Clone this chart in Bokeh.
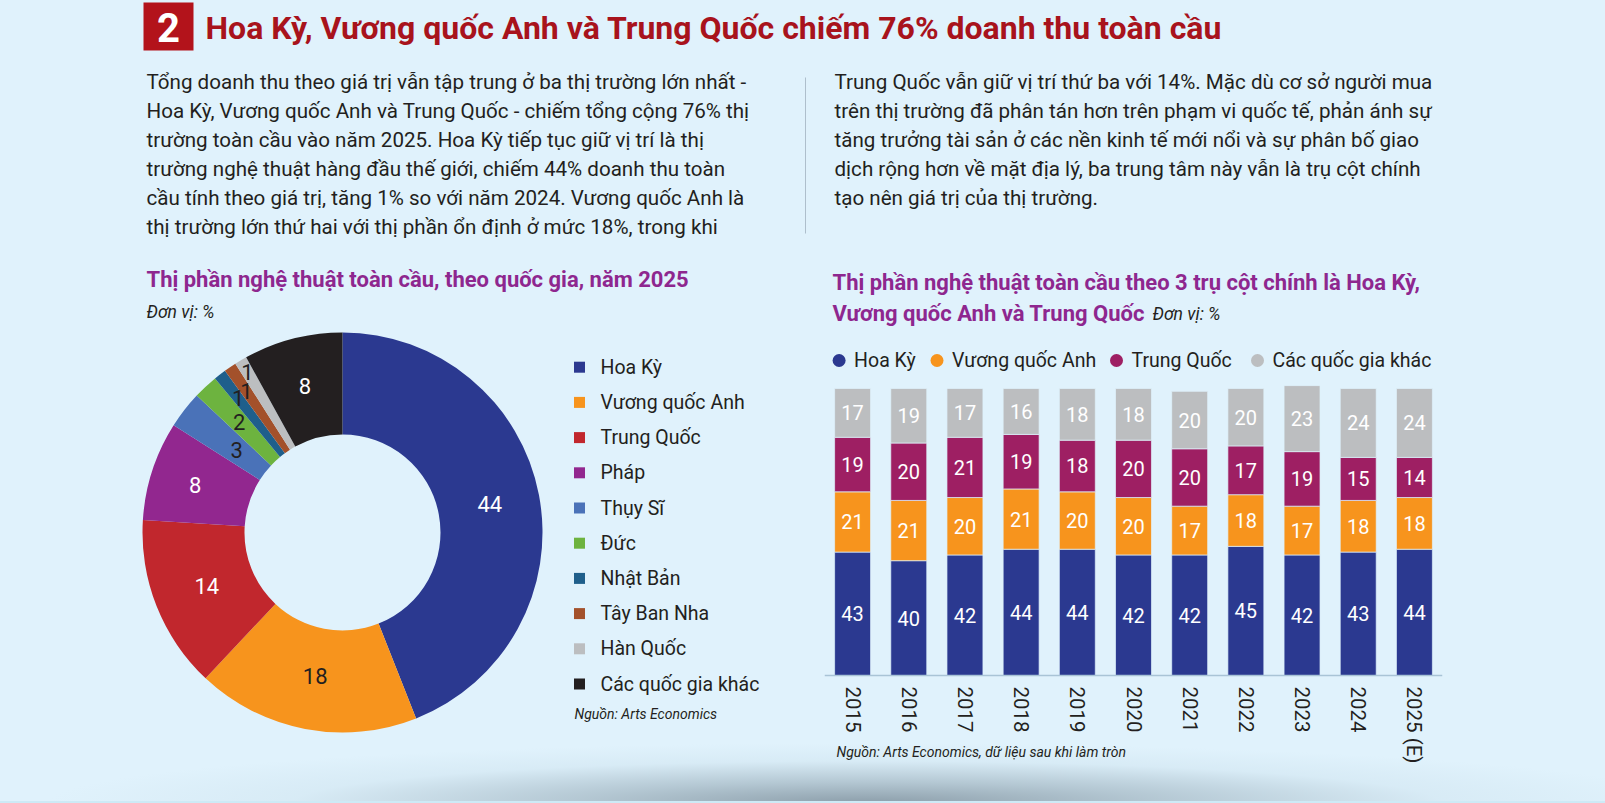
import numpy as np
from bokeh.plotting import figure
from bokeh.layouts import column, row
from bokeh.models import ColumnDataSource, Range1d, FactorRange
from bokeh.core.properties import value
from bokeh.embed import file_html
from bokeh.resources import INLINE

# ---------------- data ----------------
headline = "Hoa Kỳ, Vương quốc Anh và Trung Quốc chiếm 76% doanh thu toàn cầu"
section_no = "2"

para_left = [
    "Tổng doanh thu theo giá trị vẫn tập trung ở ba thị trường lớn nhất -",
    "Hoa Kỳ, Vương quốc Anh và Trung Quốc - chiếm tổng cộng 76% thị",
    "trường toàn cầu vào năm 2025. Hoa Kỳ tiếp tục giữ vị trí là thị",
    "trường nghệ thuật hàng đầu thế giới, chiếm 44% doanh thu toàn",
    "cầu tính theo giá trị, tăng 1% so với năm 2024. Vương quốc Anh là",
    "thị trường lớn thứ hai với thị phần ổn định ở mức 18%, trong khi",
]
para_right = [
    "Trung Quốc vẫn giữ vị trí thứ ba với 14%. Mặc dù cơ sở người mua",
    "trên thị trường đã phân tán hơn trên phạm vi quốc tế, phản ánh sự",
    "tăng trưởng tài sản ở các nền kinh tế mới nổi và sự phân bố giao",
    "dịch rộng hơn về mặt địa lý, ba trung tâm này vẫn là trụ cột chính",
    "tạo nên giá trị của thị trường.",
]

donut_title = "Thị phần nghệ thuật toàn cầu, theo quốc gia, năm 2025"
unit_text = "Đơn vị: %"
donut_source = "Nguồn: Arts Economics"
countries = ["Hoa Kỳ", "Vương quốc Anh", "Trung Quốc", "Pháp", "Thụy Sĩ",
             "Đức", "Nhật Bản", "Tây Ban Nha", "Hàn Quốc", "Các quốc gia khác"]
country_share = [44, 18, 14, 8, 3, 2, 1, 1, 1, 8]
country_colors = ["#2b3990", "#f7941d", "#c1272d", "#92278f", "#4a72b8",
                  "#6db33f", "#1f5f8b", "#a3512b", "#bcbec0", "#231f20"]

bar_title = ["Thị phần nghệ thuật toàn cầu theo 3 trụ cột chính là Hoa Kỳ,",
             "Vương quốc Anh và Trung Quốc"]
bar_source = "Nguồn: Arts Economics, dữ liệu sau khi làm tròn"
years = ["2015", "2016", "2017", "2018", "2019", "2020",
         "2021", "2022", "2023", "2024", "2025 (E)"]
share_us = [43, 40, 42, 44, 44, 42, 42, 45, 42, 43, 44]
share_uk = [21, 21, 20, 21, 20, 20, 17, 18, 17, 18, 18]
share_cn = [19, 20, 21, 19, 18, 20, 20, 17, 19, 15, 14]
share_other = [17, 19, 17, 16, 18, 18, 20, 20, 23, 24, 24]
series_names = ["Hoa Kỳ", "Vương quốc Anh", "Trung Quốc", "Các quốc gia khác"]
series_colors = ["#2b3990", "#f7941d", "#9e1f63", "#bcbec0"]

# ---------------- styling ----------------
BG = "#e0f2fc"
INK = "#231f20"
PURPLE = "#8e278f"
FONT = "Roboto"
PAGE_W, PAGE_H = 1605, 803
HEAD_H = 245
LEFT_W = 800
RIGHT_W = PAGE_W - LEFT_W
BODY_H = PAGE_H - HEAD_H


def blank_fig(w, h, xr, yr):
    p = figure(width=w, height=h, x_range=xr, y_range=yr, tools="",
               toolbar_location=None, output_backend="svg",
               x_axis_location=None, y_axis_location=None,
               min_border=0, outline_line_color=None,
               background_fill_alpha=0, border_fill_alpha=0)
    p.grid.visible = False
    return p


def put_text(p, xs, ys, texts, size, color=INK, style="normal",
             align="left", font=FONT):
    p.text(x=xs, y=ys, text=texts, text_font=value(font),
           text_font_size=size, text_font_style=style, text_color=color,
           text_align=align, text_baseline="middle")


# ---------------- header ----------------
def hy(y):
    return HEAD_H - y


head = blank_fig(PAGE_W, HEAD_H, Range1d(0, PAGE_W), Range1d(0, HEAD_H))
head.quad(left=[143], right=[193], top=[hy(2)], bottom=[hy(50)],
          color="#b3131b", line_color=None)
put_text(head, [168], [hy(27)], [section_no], "40px", color="white",
         style="bold", align="center")
put_text(head, [205], [hy(27.5)], [headline], "32px", color="#a8131c",
         style="bold")

line_gap = 28.9
put_text(head, [146] * len(para_left),
         [hy(81.5 + i * line_gap) for i in range(len(para_left))],
         para_left, "20.6px")
put_text(head, [834] * len(para_right),
         [hy(81.5 + i * line_gap) for i in range(len(para_right))],
         para_right, "20.6px")
head.line([805, 805], [hy(77), hy(233)], line_color="#aebfcc", line_width=1)


# ---------------- left: donut ----------------
def ly(y):
    return PAGE_H - y


left = blank_fig(LEFT_W, BODY_H, Range1d(0, LEFT_W), Range1d(0, BODY_H))
put_text(left, [146], [ly(279)], [donut_title], "22px", color=PURPLE,
         style="bold")
put_text(left, [146], [ly(311)], [unit_text], "17.5px", style="italic")

cx, cy = 342, ly(532)
r_in, r_out = 98, 200
frac = np.array(country_share, dtype=float) / sum(country_share)
cum_end = np.cumsum(frac)
cum_start = cum_end - frac
donut_src = ColumnDataSource(dict(
    name=countries, share=country_share, color=country_colors,
    start=np.pi / 2 - 2 * np.pi * cum_end,
    end=np.pi / 2 - 2 * np.pi * cum_start,
))
left.annular_wedge(x=cx, y=cy, inner_radius=r_in, outer_radius=r_out,
                   start_angle="start", end_angle="end", color="color",
                   line_color=None, source=donut_src)

# label radius per slice (the thin slices are staggered outward)
label_radius = [150, 146, 146, 155, 134, 151, 170, 171, 187, 151]
label_color = ["white", INK, "white", "white", INK, INK, INK, INK, INK, "white"]
mid = np.pi / 2 - 2 * np.pi * (cum_start + frac / 2)
lx = cx + np.array(label_radius) * np.cos(mid)
lyy = cy + np.array(label_radius) * np.sin(mid)
left.text(x=lx, y=lyy, text=[str(v) for v in country_share],
          text_font=value(FONT), text_font_size="22px",
          text_color=label_color, text_align="center", text_baseline="middle")

# legend
leg_y = [ly(366.7 + i * 35.2) for i in range(len(countries))]
left.scatter(x=[579] * len(countries), y=leg_y, marker="square", size=11,
             color=country_colors, line_color=None)
put_text(left, [600] * len(countries), leg_y, countries, "19.5px")
put_text(left, [574], [ly(713)], [donut_source], "14px", style="italic")

# ---------------- right: stacked bars ----------------
FR_L, FR_W = 24, 618
BASE_Y = 675
PX_PER_UNIT = 2.87
CAT_W = FR_W / len(years)


def rx(x):
    return (x - (LEFT_W + FR_L)) / CAT_W


def ry(y):
    return (BASE_Y - y) / PX_PER_UNIT


right = figure(width=RIGHT_W, height=BODY_H,
               x_range=FactorRange(*years),
               y_range=Range1d(ry(PAGE_H), ry(HEAD_H)),
               tools="", toolbar_location=None, output_backend="svg",
               x_axis_location="below", y_axis_location=None,
               min_border_left=FR_L, min_border_right=RIGHT_W - FR_L - FR_W,
               min_border_top=0, min_border_bottom=0,
               outline_line_color=None,
               background_fill_alpha=0, border_fill_alpha=0)
right.grid.visible = False

keys = ["us", "uk", "cn", "other"]
bar_src = ColumnDataSource(dict(year=years, us=share_us, uk=share_uk,
                                cn=share_cn, other=share_other))
right.vbar_stack(keys, x="year", width=0.64, color=series_colors,
                 line_color=BG, line_width=1, line_alpha=0.7, source=bar_src)

bottom = np.zeros(len(years))
for vals in (share_us, share_uk, share_cn, share_other):
    v = np.array(vals, dtype=float)
    right.text(x=years, y=bottom + v / 2, text=[str(int(a)) for a in v],
               text_font=value(FONT), text_font_size="20px",
               text_color="white", text_align="center", text_baseline="middle")
    bottom = bottom + v

# category axis pinned to the zero line
ax = right.xaxis[0]
ax.fixed_location = 0
ax.major_label_orientation = "vertical"
ax.major_label_text_font = FONT
ax.major_label_text_font_size = "20.5px"
ax.major_label_text_color = INK
ax.major_label_standoff = 5
ax.major_tick_line_color = None
ax.minor_tick_line_color = None
ax.axis_line_color = "#a9c4d6"
ax.axis_line_width = 1.5

put_text(right, [rx(832)] * 2, [ry(281.7), ry(313.3)], bar_title, "22px",
         color=PURPLE, style="bold")
put_text(right, [rx(1152)], [ry(313)], [unit_text], "17.5px", style="italic")

legend_dot_x = [838.6, 936.5, 1116, 1257]
right.scatter(x=[rx(x) for x in legend_dot_x], y=[ry(360)] * 4,
              marker="circle", size=13, color=series_colors, line_color=None)
put_text(right, [rx(x + 15) for x in legend_dot_x], [ry(360)] * 4,
         series_names, "19.5px")
put_text(right, [rx(836)], [ry(751)], [bar_source], "14px", style="italic")

# ---------------- page ----------------
page_bg = ("linear-gradient(to top, #cdeaf6 0px, #cdeaf6 2px, rgba(0,0,0,0) 2px), "
           "radial-gradient(ellipse 820px 60px at 54% 100%, "
           "rgba(140,158,170,1) 0%, rgba(165,185,197,0.75) 35%, "
           "rgba(200,222,234,0.35) 70%, rgba(224,242,252,0) 100%), " + BG)

page = column(head, row(left, right), styles={"background": page_bg})

open("out.html", "w").write(file_html(page, INLINE))
